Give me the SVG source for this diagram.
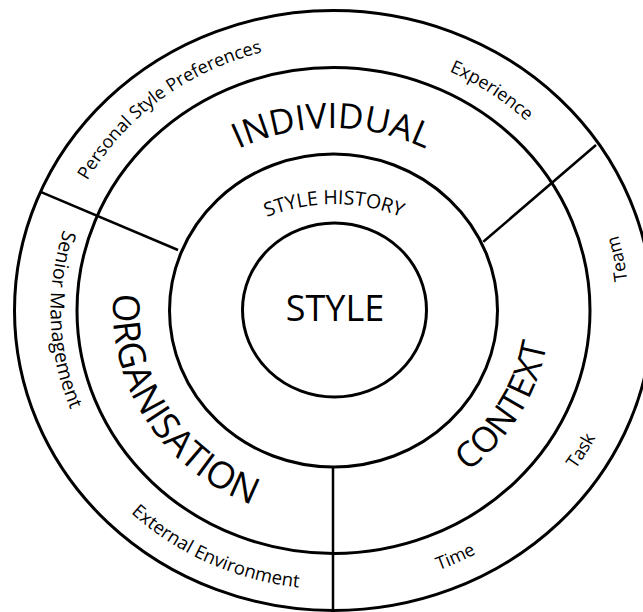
<svg xmlns="http://www.w3.org/2000/svg" xmlns:xlink="http://www.w3.org/1999/xlink" width="643" height="612" viewBox="0 0 643 612">
<style>
.ring{fill:none;stroke:#000;stroke-width:3}
.div{fill:none;stroke:#000;stroke-width:2.5}
text{font-family:"Open Sans","Liberation Sans",sans-serif;fill:#000}
.big{font-size:35px}
.org{font-size:37px}
.mid{font-size:19.5px}
.lab{font-size:18px}
.core{font-size:36px}
</style>
<defs>
<path id="pHist" d="M 164.9,322.4 A 180 180 0 0 1 503.1,322.4"/>
<path id="pInd" d="M 163.5,206.6 A 220 220 0 0 1 500.5,206.6"/>
<path id="pOrg" d="M 188.8,152.8 A 220.5 209 0 0 0 412.5,505.6"/>
<path id="pCtx" d="M 261.3,503.7 A 216.3 205 0 0 0 471.1,152.3"/>
<path id="pPers" d="M 87.1,439.9 A 281.7 267 0 0 1 518.3,109.0"/>
<path id="pExp" d="M 139.7,122.3 A 277.5 263 0 0 1 583.6,424.6"/>
<path id="pTeam" d="M 436.0,573.1 A 295.4 280 0 0 0 332.0,30.5"/>
<path id="pTask" d="M 234.8,573.3 A 294.3 279 0 0 0 521.1,95.5"/>
<path id="pTime" d="M 96.8,474.7 A 293.3 278 0 0 0 615.2,232.9"/>
<path id="pExt" d="M 50.9,232.7 A 294.3 279 0 0 0 571.0,475.3"/>
<path id="pSen" d="M 274.6,48.3 A 282.7 268 0 0 0 294.2,575.9"/>
</defs>
<rect width="643" height="612" fill="#fff"/>
<g id="outer-ring">
<ellipse class="ring" cx="333.5" cy="310.5" rx="319" ry="300"/>
</g>
<g id="main-ring">
<ellipse class="ring" cx="333.5" cy="310.5" rx="256.5" ry="243"/>
</g>
<g id="history-ring">
<ellipse class="ring" cx="333.5" cy="310.5" rx="164" ry="156.5"/>
<text class="mid" text-anchor="middle"><textPath xlink:href="#pHist" href="#pHist" startOffset="50%">STYLE HISTORY</textPath></text>
</g>
<g id="style">
<ellipse class="ring" cx="334.5" cy="310" rx="92" ry="87"/>
<text class="core" x="335" y="321" text-anchor="middle">STYLE</text>
</g>
<g id="connectors">
<line class="div" x1="40" y1="191.7" x2="178" y2="250"/>
<line class="div" x1="596" y1="145" x2="483.3" y2="241.7"/>
<line class="div" x1="333" y1="467" x2="333" y2="612"/>
</g>
<g id="individual">
<text class="big" text-anchor="middle"><textPath xlink:href="#pInd" href="#pInd" startOffset="50%">INDIVIDUAL</textPath></text>
</g>
<g id="organisation">
<text class="org" text-anchor="middle"><textPath xlink:href="#pOrg" href="#pOrg" startOffset="50%">ORGANISATION</textPath></text>
</g>
<g id="context">
<text class="big" text-anchor="middle"><textPath xlink:href="#pCtx" href="#pCtx" startOffset="50%">CONTEXT</textPath></text>
</g>
<g id="personal-style-preferences">
<text class="lab" text-anchor="middle"><textPath xlink:href="#pPers" href="#pPers" startOffset="50%">Personal Style Preferences</textPath></text>
</g>
<g id="experience">
<text class="lab" text-anchor="middle"><textPath xlink:href="#pExp" href="#pExp" startOffset="50%">Experience</textPath></text>
</g>
<g id="team">
<text class="lab" text-anchor="middle"><textPath xlink:href="#pTeam" href="#pTeam" startOffset="50%">Team</textPath></text>
</g>
<g id="task">
<text class="lab" text-anchor="middle"><textPath xlink:href="#pTask" href="#pTask" startOffset="50%">Task</textPath></text>
</g>
<g id="time">
<text class="lab" text-anchor="middle"><textPath xlink:href="#pTime" href="#pTime" startOffset="50%">Time</textPath></text>
</g>
<g id="external-environment">
<text class="lab" text-anchor="middle" style="font-size:18.5px"><textPath xlink:href="#pExt" href="#pExt" startOffset="50%">External Environment</textPath></text>
</g>
<g id="senior-management">
<text class="lab" text-anchor="middle" style="font-size:19.5px"><textPath xlink:href="#pSen" href="#pSen" startOffset="50%">Senior Management</textPath></text>
</g>
</svg>
